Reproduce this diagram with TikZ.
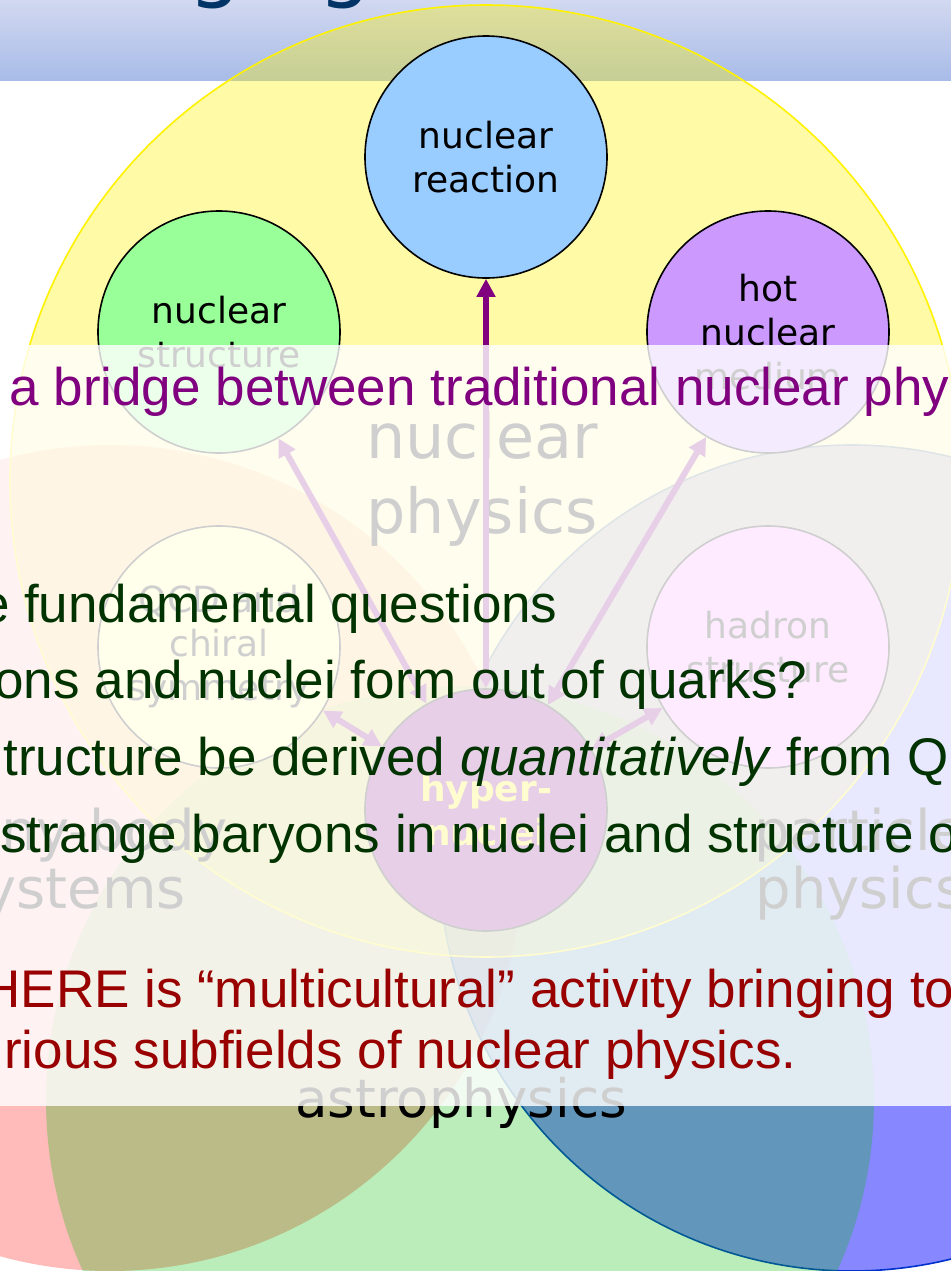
\documentclass[tikz,border=0pt]{standalone}
\usepackage{fontspec}
\setmainfont{Liberation Sans}
\newfontfamily\verdana{DejaVu Sans}
\usetikzlibrary{positioning, arrows.meta}
\definecolor{titleblue}{HTML}{003366}
\definecolor{bartop}{HTML}{D2D8F0}
\definecolor{barbottom}{HTML}{A8BCE8}
\definecolor{reactionblue}{HTML}{99CCFF}
\definecolor{structgreen}{HTML}{99FF99}
\definecolor{hotpurple}{HTML}{CC99FF}
\definecolor{qcdyellow}{HTML}{FFFF99}
\definecolor{hadronpink}{HTML}{FF99FF}
\definecolor{hyperpurple}{HTML}{800080}
\definecolor{astrogreen}{RGB}{0,191,0}
\definecolor{particleblue}{HTML}{0033CC}
\definecolor{questgreen}{HTML}{003300}
\definecolor{herered}{HTML}{990000}

\tikzset{
  field/.style={circle, inner sep=0pt, minimum size=121pt, draw=black, line width=0.8pt,
                align=center, font=\verdana\fontsize{18}{22}\selectfont},
  link/.style={hyperpurple, line width=3pt,
               {Triangle[length=9pt,width=9pt]}-{Triangle[length=9pt,width=9pt]}},
  biglabel/.style={align=center, inner sep=0pt, anchor=base, font=\verdana\fontsize{31}{37.5}\selectfont},
  sidelabel/.style={align=center, inner sep=0pt, anchor=base, font=\verdana\fontsize{28}{29}\selectfont},
  slideline/.style={inner sep=0pt, font=\fontsize{26.5}{30}\selectfont},
}

\begin{document}
\begin{tikzpicture}[x=0.5pt, y=-0.5pt]
    \useasboundingbox (0,0) rectangle (951,1271);
    \fill[white] (0,0) rectangle (951,1271);

    % title bar
    \shade[top color=bartop, bottom color=barbottom] (0,0) rectangle (951,80);
    \node[anchor=base west, inner sep=0pt, text=titleblue,
          font=\verdana\fontsize{42}{50}\selectfont] (title) at (188,-9) {ging};

    % the four fields
    \fill[red, fill opacity=0.27] (110,858) circle[radius=206.5pt];
    \filldraw[fill=blue, fill opacity=0.47, draw=particleblue, line width=0.8pt] (852,858) circle[radius=206.5pt];
    \fill[astrogreen, fill opacity=0.27] (460,1100) circle[radius=207pt];
    \filldraw[fill=yellow, fill opacity=0.35, draw=yellow, line width=0.8pt] (486,481) circle[radius=238pt];

    % base of a two-line label = its last line
    \node[biglabel] (nuclphys) at (482,533) {nuclear\\physics};
    \node[sidelabel] (manybody) at (70,908) {many-body\\systems};
    \node[sidelabel] (partphys) at (860,908) {particle\\physics};
    \node[biglabel, font=\verdana\fontsize{26.5}{30}\selectfont] (astro) at (461,1117) {astrophysics};

    % subfields
    \node[field, fill=reactionblue] (reaction) at (486,157) {nuclear\\reaction};
    \node[field, fill=structgreen] (structure) at (219,332) {nuclear\\structure};
    \node[field, fill=hotpurple] (hot) at (768,332) {hot\\nuclear\\medium};
    \node[field, fill=qcdyellow] (qcd) at (219,647) {QCD and\\chiral\\symmetry};
    \node[field, fill=hadronpink] (hadron) at (768,647) {hadron\\structure};
    \node[field, fill=hyperpurple, text=yellow, font=\verdana\bfseries\fontsize{18}{22}\selectfont]
          (hyper) at (486,810) {hyper-\\nuclei};

    \draw[link] (hyper) -- (reaction);
    \draw[link] (hyper) -- (structure);
    \draw[link] (hyper) -- (hot);
    \draw[link] (hyper) -- (qcd);
    \draw[link] (hyper) -- (hadron);

    % text box over the picture
    \fill[white, fill opacity=0.81] (0,345) rectangle (951,1106);

    \node[slideline, anchor=base west, text=hyperpurple] (bridge) at (9,405)
      {a bridge between traditional nuclear phy};
    \node[slideline, anchor=base east, text=questgreen] (q1) at (558,622)
      {e fundamental questions};
    \node[slideline, anchor=base east, text=questgreen] (q2) at (808,698)
      {ons and nuclei form out of quarks?};
    \node[slideline, anchor=base west, text=questgreen] (q3) at (3,775)
      {tructure be derived \textit{quantitatively} from Q};
    \node[slideline, anchor=base west, text=questgreen] (q4) at (0,852)
      {strange baryons in nuclei and structure o};
    \node[slideline, anchor=base west, text=herered] (here1) at (-18,1007)
      {HERE is “multicultural” activity bringing to};
    \node[slideline, anchor=base east, text=herered] (here2) at (797,1068)
      {rious subfields of nuclear physics.};
\end{tikzpicture}
\end{document}
